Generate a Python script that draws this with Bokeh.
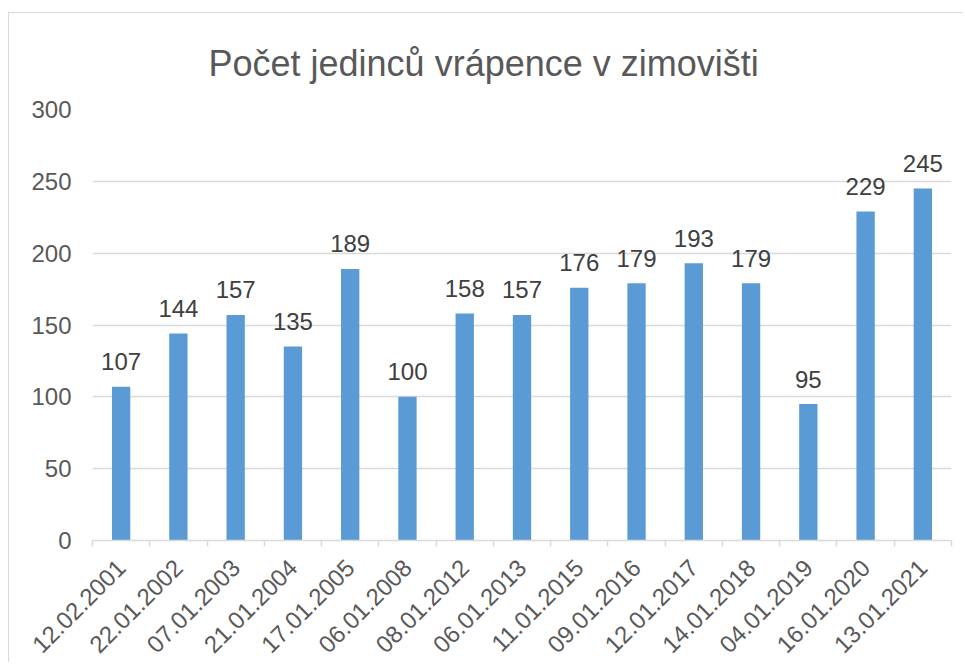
import math
from bokeh.plotting import figure
from bokeh.models import Range1d, FixedTicker, ColumnDataSource
from bokeh.embed import file_html
from bokeh.resources import INLINE

title_text = "Počet jedinců vrápence v zimovišti"
dates = ["12.02.2001", "22.01.2002", "07.01.2003", "21.01.2004", "17.01.2005",
         "06.01.2008", "08.01.2012", "06.01.2013", "11.01.2015", "09.01.2016",
         "12.01.2017", "14.01.2018", "04.01.2019", "16.01.2020", "13.01.2021"]
counts = [107, 144, 157, 135, 189, 100, 158, 157, 176, 179, 193, 179, 95, 229, 245]
y_ticks = [0, 50, 100, 150, 200, 250, 300]

FONT = "Liberation Sans"
GRID = "#d9d9d9"

n = len(dates)
xs = [i + 0.5 for i in range(n)]
src = ColumnDataSource(dict(x=xs, top=counts, lab=[str(c) for c in counts]))

p = figure(width=955, height=650, output_backend="svg", toolbar_location=None,
           x_range=Range1d(0, n), y_range=Range1d(0, 300),
           min_border_left=83, min_border_right=13, min_border_top=96, min_border_bottom=121,
           title=title_text)
p.styles = {"border-top": "1px solid #d9d9d9", "border-left": "1px solid #d9d9d9",
            "margin-top": "12px", "margin-left": "8px"}
p.outline_line_color = None
p.background_fill_color = "white"
p.border_fill_color = "white"

p.title.text_font = FONT
p.title.text_font_size = "36px"
p.title.text_font_style = "normal"
p.title.text_color = "#595959"
p.title.align = "left"
p.title.offset = 116
p.title.standoff = 52

p.vbar(x="x", top="top", width=0.32, source=src, color="#5b9bd5", line_color=None)
p.text(x="x", y="top", text="lab", source=src, text_align="center",
       text_baseline="alphabetic", y_offset=-25, text_font_size="24px",
       text_color="#404040", text_font={"value": FONT})

# y axis
p.yaxis.ticker = FixedTicker(ticks=y_ticks)
p.yaxis.axis_line_color = None
p.yaxis.major_tick_line_color = None
p.yaxis.minor_tick_line_color = None
p.yaxis.major_tick_out = 0
p.yaxis.major_label_standoff = 21
p.yaxis.major_label_text_font = FONT
p.yaxis.major_label_text_font_size = "24px"
p.yaxis.major_label_text_color = "#595959"
p.ygrid.grid_line_color = GRID
p.ygrid.grid_line_width = 1.3
p.xgrid.grid_line_color = None

# x axis
p.xaxis.ticker = FixedTicker(ticks=xs, minor_ticks=list(range(n + 1)))
p.xaxis.major_label_overrides = {x: d for x, d in zip(xs, dates)}
p.xaxis.major_label_orientation = math.pi / 4
p.xaxis.axis_line_color = GRID
p.xaxis.axis_line_width = 1.5
p.xaxis.major_tick_line_color = None
p.xaxis.major_tick_out = 0
p.xaxis.major_tick_in = 0
p.xaxis.minor_tick_line_color = GRID
p.xaxis.minor_tick_line_width = 1.5
p.xaxis.minor_tick_out = 6
p.xaxis.minor_tick_in = 0
p.xaxis.major_label_standoff = 17
p.xaxis.major_label_text_font = FONT
p.xaxis.major_label_text_font_size = "24px"
p.xaxis.major_label_text_color = "#595959"

open("out.html", "w").write(file_html(p, INLINE))
